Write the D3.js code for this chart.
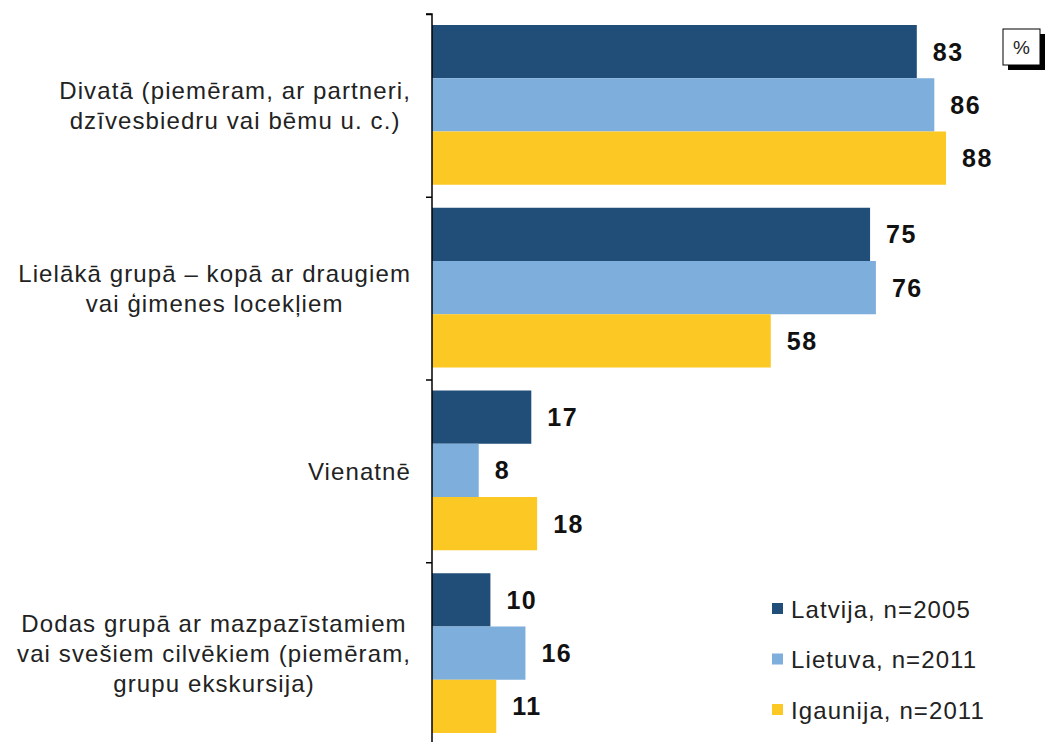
<!DOCTYPE html>
<html>
<head>
<meta charset="utf-8">
<script src="https://cdn.jsdelivr.net/npm/d3@7"></script>
<style>
  body { margin: 0; background: #fff; }
  text { font-family: "Liberation Sans", Arial, sans-serif; }
</style>
</head>
<body>
<div id="chart"></div>
<script>
let categories = [
  ['Divatā (piemēram, ar partneri,', 'dzīvesbiedru vai bēmu u. c.)'],
  ['Lielākā grupā – kopā ar draugiem', 'vai ģimenes locekļiem'],
  ['Vienatnē'],
  ['Dodas grupā ar mazpazīstamiem', 'vai svešiem cilvēkiem (piemēram,', 'grupu ekskursija)']
]
let series = ['Latvija, n=2005', 'Lietuva, n=2011', 'Igaunija, n=2011']
let latvija = [83, 75, 17, 10]
let lietuva = [86, 76, 8, 16]
let igaunija = [88, 58, 18, 11]
let values = [latvija, lietuva, igaunija]

let width = 1047,
  height = 742,
  axisX = 432, // x of the vertical axis
  plotTop = 14,
  plotBottom = 745,
  labelRight = 411, // right edge of the category label blocks
  lineHeight = 30,
  colors = ['#214e78', '#7eaedc', '#fcc823']

let svg = d3.select('#chart').append('svg')
  .attr('width', width)
  .attr('height', height)

let x = d3.scaleLinear()
  .domain([0, 88])
  .range([axisX, 946])

let y0 = d3.scaleBand()
  .domain(d3.range(categories.length))
  .range([plotTop, plotBottom])

let y1 = d3.scaleBand()
  .domain(d3.range(series.length))
  .range([11, y0.bandwidth() - 12])

// bars
let groups = svg.append('g').selectAll('.group')
  .data(categories)
  .enter().append('g')
  .attr('transform', (d, i) => 'translate(0,' + y0(i) + ')')

groups.each(function (cat, ci) {
  let g = d3.select(this)
  series.forEach((s, si) => {
    let v = values[si][ci]
    g.append('rect')
      .attr('x', x(0))
      .attr('y', y1(si))
      .attr('width', x(v) - x(0))
      .attr('height', y1.bandwidth())
      .attr('fill', colors[si])
    g.append('text')
      .attr('x', x(v) + 16)
      .attr('y', y1(si) + y1.bandwidth() / 2)
      .attr('dy', '0.36em')
      .attr('font-size', '25px')
      .attr('font-weight', 'bold')
      .attr('letter-spacing', '1.5px')
      .attr('fill', '#111')
      .text(v)
  })

  // category label: block right-aligned to the axis, lines centred in it
  let n = cat.length
  let cy = y0.bandwidth() / 2
  let t = g.append('text')
    .attr('text-anchor', 'middle')
    .attr('font-size', '24px')
    .attr('letter-spacing', '1.1px')
    .attr('fill', '#222')
  let spans = cat.map((line, li) => t.append('tspan')
    .attr('y', cy + (li - (n - 1) / 2) * lineHeight)
    .attr('dy', '0.36em')
    .text(line))
  let maxW = d3.max(spans, s => s.node().getComputedTextLength())
  spans.forEach(s => s.attr('x', labelRight - maxW / 2))
})

// axis with ticks between groups
let axis = d3.axisLeft(d3.scaleLinear().domain([0, 4]).range([plotTop, plotBottom]))
  .ticks(4)
  .tickSize(6)
  .tickFormat('')
svg.append('g')
  .attr('transform', 'translate(' + axisX + ',0)')
  .call(axis)
  .call(g => g.select('.domain').attr('stroke', '#000').attr('stroke-width', 1.5).attr('d', 'M-6,' + plotTop + 'H0V' + plotBottom))
  .call(g => g.selectAll('.tick line').attr('stroke', '#000').attr('stroke-width', 1.5))

// percent box
svg.append('rect')
  .attr('x', 1008).attr('y', 34)
  .attr('width', 37).attr('height', 36)
  .attr('fill', '#000')
svg.append('rect')
  .attr('x', 1003).attr('y', 29)
  .attr('width', 37).attr('height', 36)
  .attr('fill', '#fff')
  .attr('stroke', '#000')
  .attr('stroke-width', 1)
svg.append('text')
  .attr('x', 1021.5).attr('y', 47)
  .attr('dy', '0.36em')
  .attr('text-anchor', 'middle')
  .attr('font-size', '19px')
  .attr('fill', '#222')
  .text('%')

// legend
let legend = svg.append('g').selectAll('.legend')
  .data(series)
  .enter().append('g')
  .attr('transform', (d, i) => 'translate(772,' + (609 + i * 50.5) + ')')

legend.append('rect')
  .attr('x', 0).attr('y', -6)
  .attr('width', 11).attr('height', 11)
  .attr('fill', (d, i) => colors[i])

legend.append('text')
  .attr('x', 19)
  .attr('dy', '0.36em')
  .attr('font-size', '24px')
  .attr('letter-spacing', '1.1px')
  .attr('fill', '#222')
  .text(d => d)
</script>
</body>
</html>
